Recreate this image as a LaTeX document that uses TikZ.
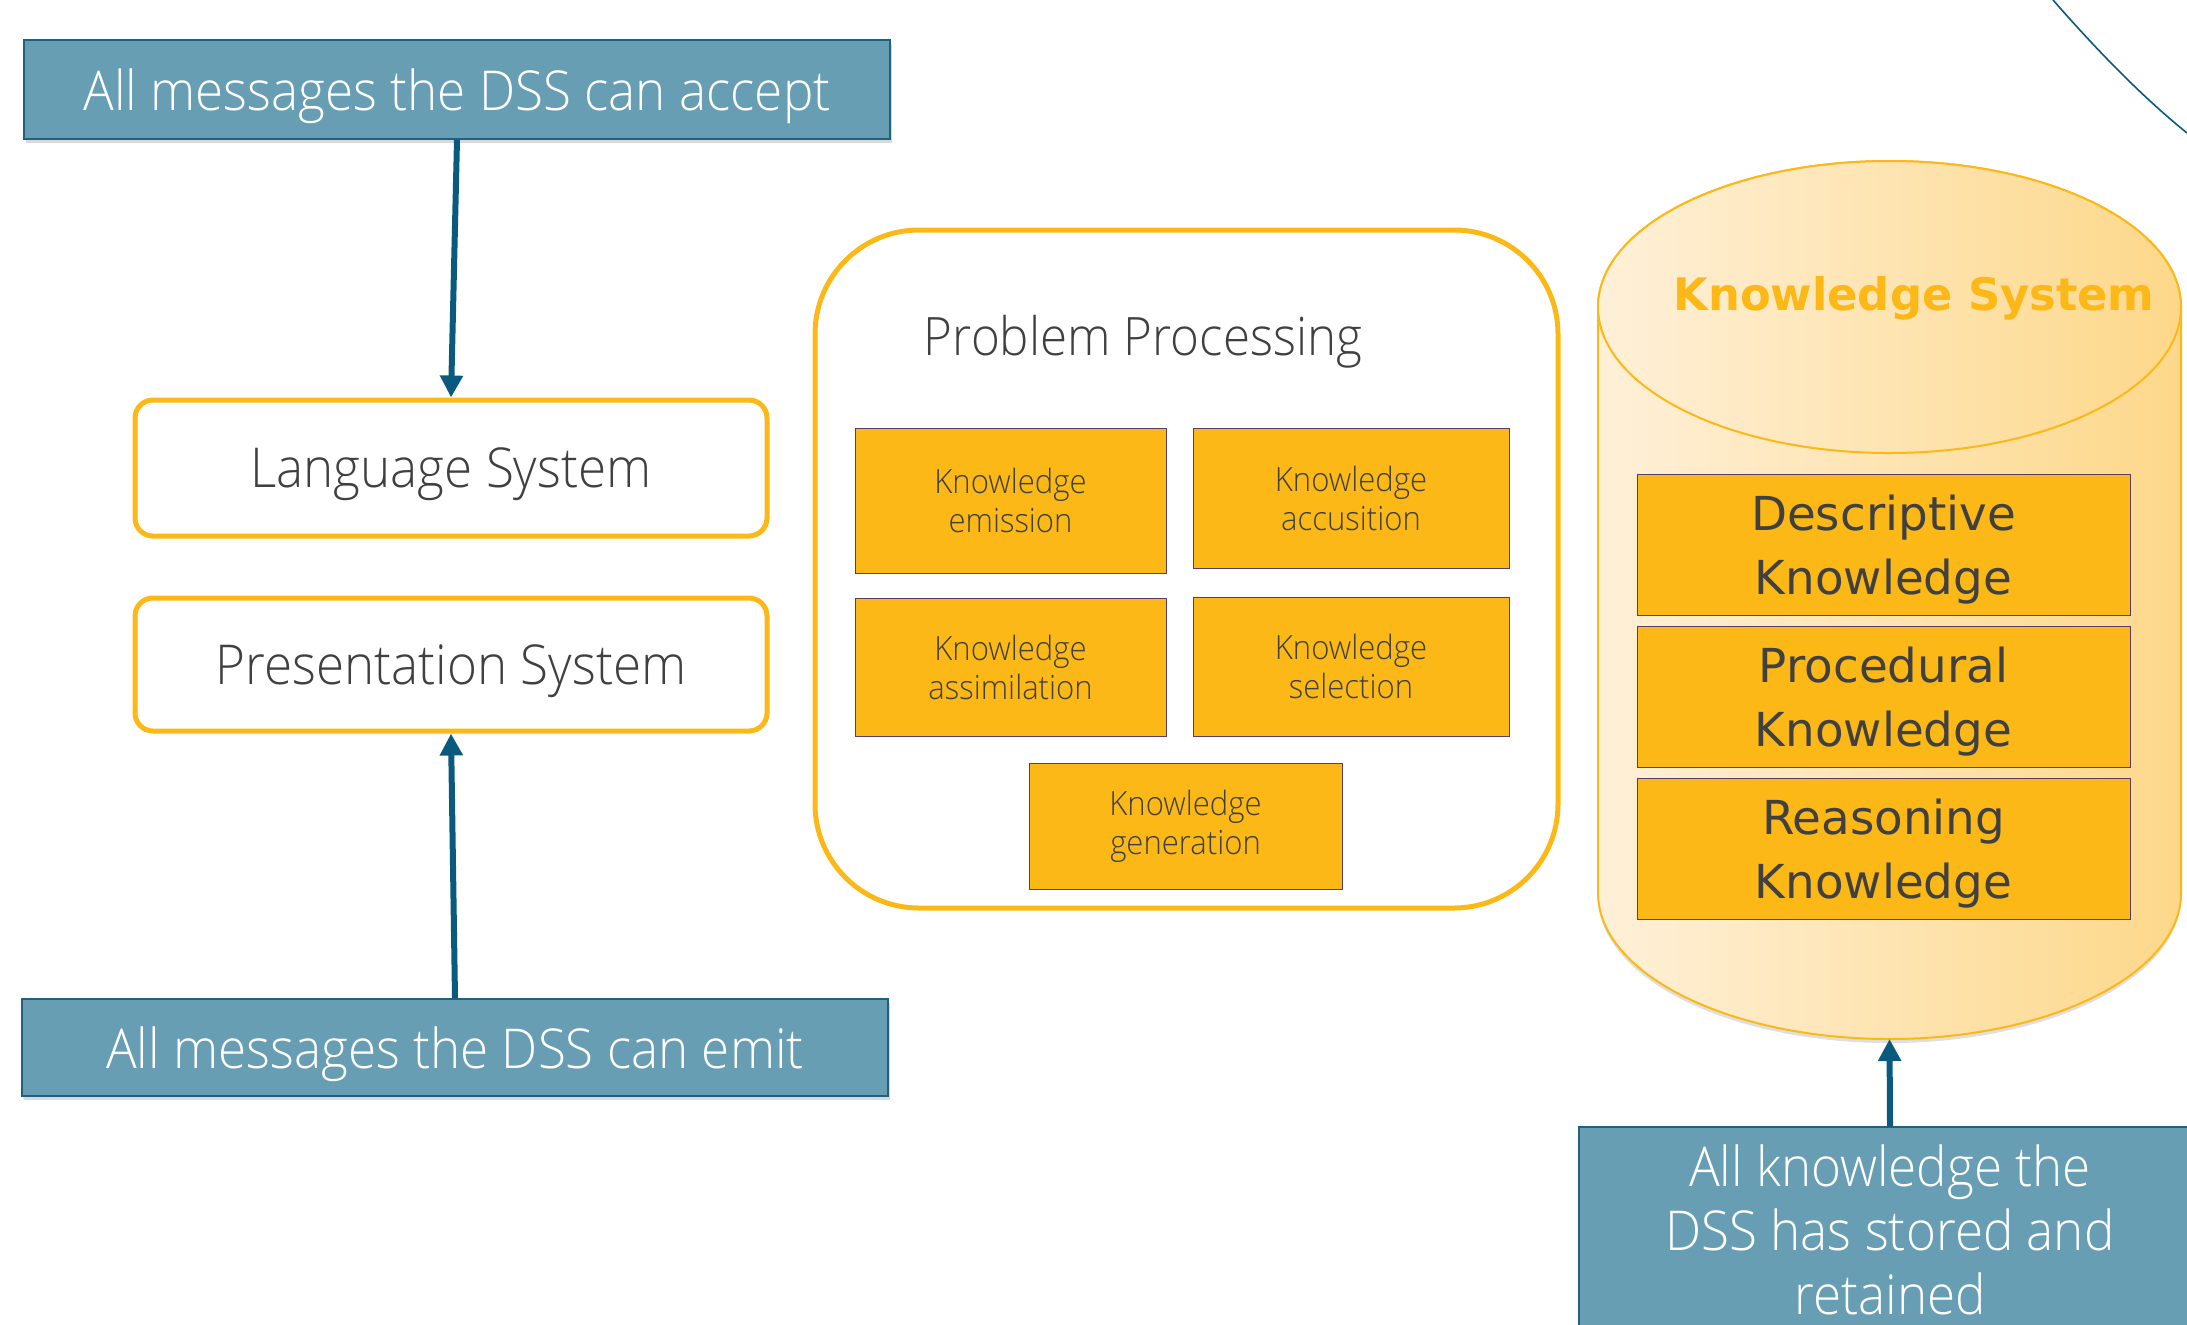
\documentclass[tikz,border=0pt]{standalone}
\usepackage{fontspec}
\setmainfont[FakeStretch=0.93]{Open Sans Light}
\newfontfamily\wideface{DejaVu Sans}
\usetikzlibrary{arrows.meta,shadows,positioning}
\definecolor{msgfill}{RGB}{103,158,180}
\definecolor{msgline}{RGB}{30,98,128}
\definecolor{flowblue}{RGB}{10,90,125}
\definecolor{kgold}{RGB}{251,184,23}
\definecolor{kline}{RGB}{90,60,105}
\definecolor{inkgray}{RGB}{64,64,64}
\definecolor{cylleft}{RGB}{254,240,216}
\definecolor{cylright}{RGB}{253,216,138}
\tikzset{
  msgbox/.style={draw=msgline, line width=0.8pt, fill=msgfill, text=white, inner sep=0pt,
    align=center, font=\fontsize{27.5}{32}\selectfont,
    drop shadow={shadow xshift=1pt, shadow yshift=-2pt, opacity=0.3}},
  sysbox/.style={draw=kgold, line width=2.5pt, rounded corners=9pt, fill=white, text=inkgray,
    minimum width=316pt, inner sep=0pt, text depth=0pt, font=\fontsize{27.5}{32}\selectfont},
  taskbox/.style={draw=kline, line width=0.5pt, fill=kgold, text=inkgray, inner sep=0pt,
    align=center, font=\fontsize{16.7}{19.5}\selectfont},
  kindbox/.style={draw=kline, line width=0.5pt, fill=kgold, text=inkgray, inner sep=0pt,
    align=center, minimum width=246.5pt, minimum height=70.5pt, text depth=0pt,
    font=\wideface\fontsize{23.4}{32}\selectfont},
  flow/.style={draw=flowblue, line width=3pt, -{Triangle[length=11pt,width=11pt]}},
}
\begin{document}
\begin{tikzpicture}[x=0.5pt,y=-0.5pt]
  \useasboundingbox (0,0) rectangle (2187,1324);
  \clip (0,0) rectangle (2187,1324);

  % language and presentation side
  \node[msgbox, text depth=0pt, minimum width=433pt, minimum height=49.5pt] (accept) at (457,89.5)
    {All messages the DSS can accept};
  \node[sysbox, minimum height=68pt] (lang) at (451,468) {Language System};
  \node[sysbox, minimum height=66.5pt] (pres) at (451,664.5) {Presentation System};
  \node[msgbox, text depth=0pt, minimum width=433pt, minimum height=48.5pt] (emit) at (455,1047.5)
    {All messages the DSS can emit};
  \draw[flow] (accept.south) -- (lang.north);
  \draw[flow] (emit.north) -- (pres.south);

  % problem processing
  \node[draw=kgold, line width=2.5pt, rounded corners=52pt, minimum width=371.5pt,
    minimum height=339pt] (pps) at (1186.5,569) {};
  \node[text=inkgray, text depth=0pt, font=\fontsize{26.5}{30}\selectfont] (ppstitle) at (1143,335)
    {Problem Processing};
  \node[taskbox, minimum width=155.5pt, minimum height=72.5pt] (emission) at (1010.5,500.5)
    {Knowledge\\emission};
  \node[taskbox, minimum width=158pt, minimum height=70pt] (accusition) at (1351,498)
    {Knowledge\\accusition};
  \node[taskbox, minimum width=155.5pt, minimum height=69pt] (assimilation) at (1010.5,667)
    {Knowledge\\assimilation};
  \node[taskbox, minimum width=158pt, minimum height=69.5pt] (selection) at (1351,666.5)
    {Knowledge\\selection};
  \node[taskbox, minimum width=156.5pt, minimum height=63pt] (generation) at (1185.5,826)
    {Knowledge\\generation};

  % knowledge system drum
  \path[draw=kgold, line width=1pt, left color=cylleft, right color=cylright,
    drop shadow={shadow xshift=0pt, shadow yshift=-2pt, opacity=0.25}]
    (1598,307) -- (1598,893)
    arc[start angle=180, end angle=0, x radius=291.5, y radius=146]
    -- (2181,307)
    arc[start angle=0, end angle=-180, x radius=291.5, y radius=146] -- cycle;
  \path[draw=kgold, line width=1pt, left color=cylleft, right color=cylright]
    (1889.5,307) ellipse [x radius=291.5, y radius=146];
  \coordinate (kbase) at (1889.5,1039);
  \node[text=kgold, text depth=0pt, font=\wideface\bfseries\fontsize{22.4}{26}\selectfont] (kstitle)
    at (1914,293) {Knowledge System};
  \foreach \name/\txt/\y in {desc/Descriptive/544.5, proc/Procedural/696.5, reas/Reasoning/848.5}
    \node[kindbox] (\name) at (1883.5,\y) {\txt\\Knowledge};

  \node[msgbox, minimum width=311pt, minimum height=103pt] (store) at (1890,1230)
    {All knowledge the\\DSS has stored and\\retained};
  \draw[flow] (store.north) -- (kbase);

  % edge of the surrounding ring
  \draw[flowblue, line width=0.8pt] (2053,0) .. controls (2095,48) and (2140,95) .. (2187,133);
\end{tikzpicture}
\end{document}
